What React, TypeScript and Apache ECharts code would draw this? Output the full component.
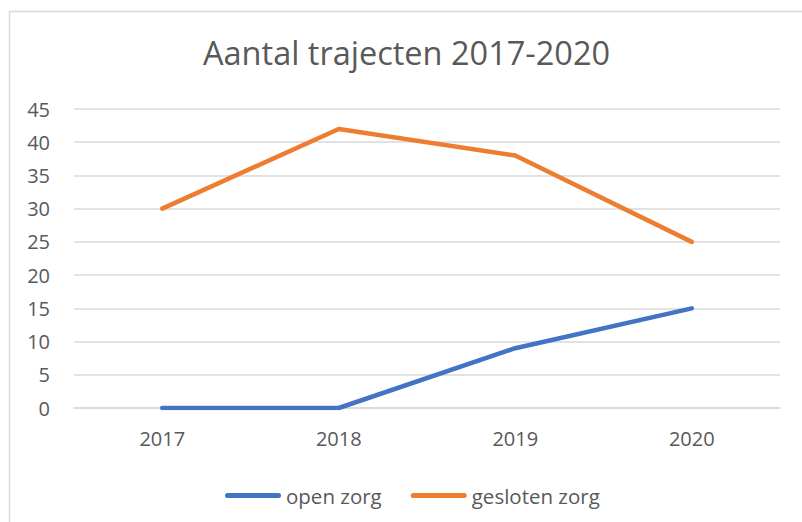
import React, { useEffect, useRef } from "react";
import * as echarts from "echarts";

const years = ["2017", "2018", "2019", "2020"];
const openZorg = [0, 0, 9, 15];
const geslotenZorg = [30, 42, 38, 25];
const titleText = "Aantal trajecten 2017-2020";

const FONT = "'Open Sans', 'Noto Sans', sans-serif";
const TXT = "#595959";
const GRID = "#d9d9d9";
const legendIcon =
  "path://M2.5,0 H53.5 A2.5,2.5 0 0 1 53.5,5 H2.5 A2.5,2.5 0 0 1 2.5,0 Z";

export default function App() {
  const ref = useRef<HTMLDivElement>(null);
  useEffect(() => {
    if (!ref.current) return;
    const chart = echarts.init(ref.current, undefined, { renderer: "svg" });
    chart.setOption({
      animation: false,
      backgroundColor: "#ffffff",
      title: {
        text: titleText,
        left: 198,
        top: 31,
        textStyle: { fontFamily: FONT, fontSize: 32.5, fontWeight: "normal", color: TXT },
      },
      grid: { left: 74, right: 22, top: 109, bottom: 114, containLabel: false },
      legend: {
        left: 220,
        top: 480,
        itemWidth: 56,
        itemHeight: 5,
        itemGap: 29,
        icon: legendIcon,
        textStyle: { fontFamily: FONT, fontSize: 20.5, color: TXT },
        data: ["open zorg", "gesloten zorg"],
      },
      xAxis: {
        type: "category",
        data: years,
        boundaryGap: true,
        axisLine: { show: true, lineStyle: { color: GRID, width: 1.5 } },
        axisTick: { show: false },
        axisLabel: { fontFamily: FONT, fontSize: 20, color: TXT, margin: 20 },
      },
      yAxis: {
        type: "value",
        min: 0,
        max: 45,
        interval: 5,
        axisLine: { show: false },
        axisTick: { show: false },
        splitLine: { lineStyle: { color: GRID, width: 1.5 } },
        axisLabel: { fontFamily: FONT, fontSize: 20, color: TXT, margin: 24 },
      },
      series: [
        {
          name: "open zorg",
          type: "line",
          data: openZorg,
          symbol: "none",
          color: "#4472C4",
          lineStyle: { color: "#4472C4", width: 4.5, cap: "round", join: "round" },
        },
        {
          name: "gesloten zorg",
          type: "line",
          data: geslotenZorg,
          symbol: "none",
          color: "#ED7D31",
          lineStyle: { color: "#ED7D31", width: 4.5, cap: "round", join: "round" },
        },
      ],
      graphic: [
        {
          type: "line",
          shape: { x1: 9, y1: 11.5, x2: 802, y2: 11.5 },
          style: { stroke: GRID, lineWidth: 1.5 },
          silent: true,
        },
        {
          type: "line",
          shape: { x1: 9.5, y1: 11, x2: 9.5, y2: 522 },
          style: { stroke: GRID, lineWidth: 1.5 },
          silent: true,
        },
      ],
    });
    return () => chart.dispose();
  }, []);
  return (
    <div
      ref={ref}
      style={{ position: "absolute", left: 0, top: 0, width: 802, height: 522, background: "#fff" }}
    />
  );
}
